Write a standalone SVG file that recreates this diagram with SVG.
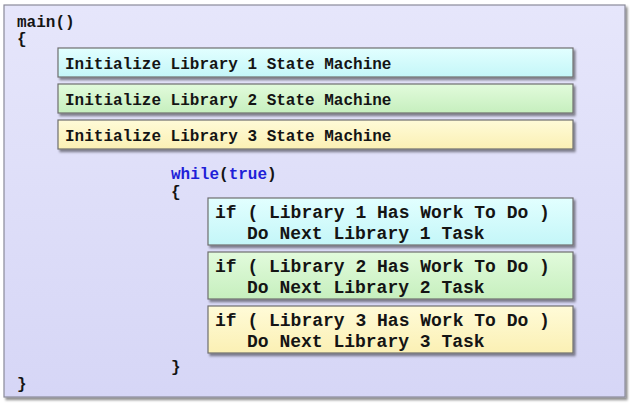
<svg xmlns="http://www.w3.org/2000/svg" width="632" height="406" viewBox="0 0 632 406">
  <defs>
    <linearGradient id="gPanel" x1="0" y1="0" x2="0" y2="1">
      <stop offset="0" stop-color="#e6e6fb"/>
      <stop offset="1" stop-color="#d6d6f6"/>
    </linearGradient>
    <linearGradient id="gCyan" x1="0" y1="0" x2="0" y2="1">
      <stop offset="0" stop-color="#e2ffff"/>
      <stop offset="1" stop-color="#c4f6f8"/>
    </linearGradient>
    <linearGradient id="gGreen" x1="0" y1="0" x2="0" y2="1">
      <stop offset="0" stop-color="#e2fbdc"/>
      <stop offset="1" stop-color="#c6efbe"/>
    </linearGradient>
    <linearGradient id="gYellow" x1="0" y1="0" x2="0" y2="1">
      <stop offset="0" stop-color="#fffbd8"/>
      <stop offset="1" stop-color="#fbf0b4"/>
    </linearGradient>
    <filter id="shadow" x="-5%" y="-20%" width="110%" height="150%">
      <feDropShadow dx="2" dy="2.5" stdDeviation="1.2" flood-color="#000" flood-opacity="0.45"/>
    </filter>
  </defs>
  <style>
    .code { font-family: "Liberation Mono", "Courier New", monospace; font-weight: bold; fill: #141414; }
    .init { font-size: 16px; }
    .loop { font-size: 18px; }
    .kw { fill: #1f1fd8; }
    .box { stroke: #6e6e6e; stroke-width: 1.2; filter: url(#shadow); }
  </style>

  <!-- background panel -->
  <rect x="4" y="5" width="621" height="392" fill="url(#gPanel)" stroke="#8a8a9a" stroke-width="1.2" filter="url(#shadow)"/>

  <g id="main-header">
    <text class="code init" x="17" y="27">main()</text>
    <text class="code init" x="17" y="44">{</text>
  </g>

  <g id="init-lib1">
    <rect class="box" x="58" y="48" width="515" height="29" fill="url(#gCyan)"/>
    <text class="code init" x="65" y="69">Initialize Library 1 State Machine</text>
  </g>
  <g id="init-lib2">
    <rect class="box" x="58" y="84" width="515" height="29" fill="url(#gGreen)"/>
    <text class="code init" x="65" y="105">Initialize Library 2 State Machine</text>
  </g>
  <g id="init-lib3">
    <rect class="box" x="58" y="120" width="515" height="29" fill="url(#gYellow)"/>
    <text class="code init" x="65" y="141">Initialize Library 3 State Machine</text>
  </g>

  <g id="while-header">
    <text class="code init" x="171" y="179"><tspan class="kw">while</tspan>(<tspan class="kw">true</tspan>)</text>
    <text class="code init" x="171" y="197">{</text>
  </g>

  <g id="task-lib1">
    <rect class="box" x="208" y="198" width="365" height="47" fill="url(#gCyan)"/>
    <text class="code loop" x="215" y="218">if ( Library 1 Has Work To Do )</text>
    <text class="code loop" x="247" y="239">Do Next Library 1 Task</text>
  </g>
  <g id="task-lib2">
    <rect class="box" x="208" y="252" width="365" height="47" fill="url(#gGreen)"/>
    <text class="code loop" x="215" y="272">if ( Library 2 Has Work To Do )</text>
    <text class="code loop" x="247" y="293">Do Next Library 2 Task</text>
  </g>
  <g id="task-lib3">
    <rect class="box" x="208" y="306" width="365" height="47" fill="url(#gYellow)"/>
    <text class="code loop" x="215" y="326">if ( Library 3 Has Work To Do )</text>
    <text class="code loop" x="247" y="347">Do Next Library 3 Task</text>
  </g>

  <g id="closing-braces">
    <text class="code init" x="171" y="372">}</text>
    <text class="code init" x="17" y="389">}</text>
  </g>

  <g id="connectors"/>
</svg>
